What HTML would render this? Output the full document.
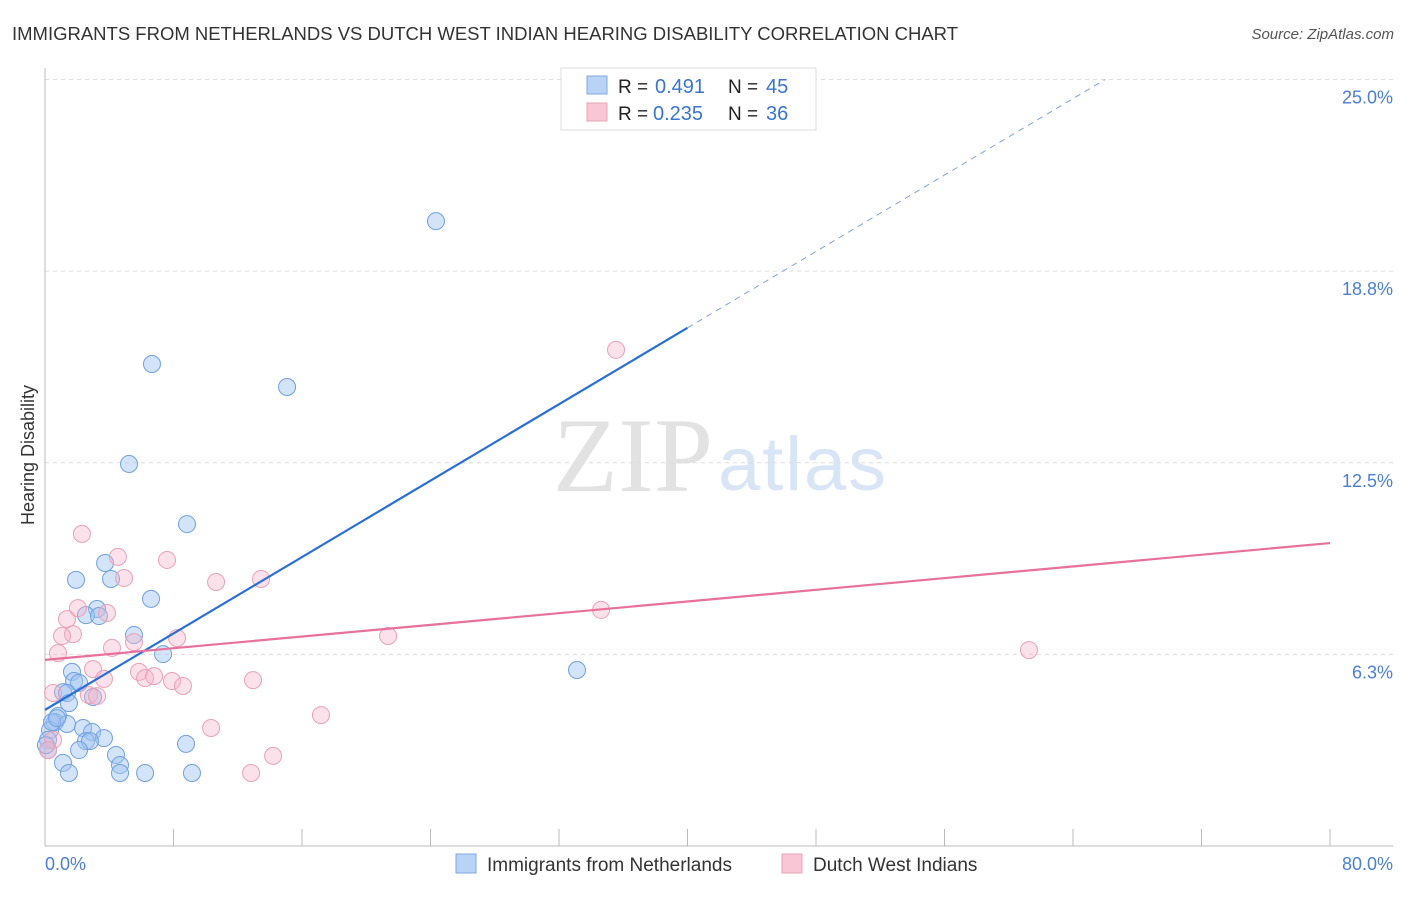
<!DOCTYPE html>
<html><head><meta charset="utf-8"><style>
body{margin:0;background:#fff;font-family:"Liberation Sans",sans-serif}
svg text{font-family:"Liberation Sans",sans-serif}
</style></head><body>
<svg width="1406" height="892">
<text x="12" y="40" font-size="18.5" fill="#333" textLength="946">IMMIGRANTS FROM NETHERLANDS VS DUTCH WEST INDIAN HEARING DISABILITY CORRELATION CHART</text>
<text x="1394" y="39" font-size="15" fill="#555" font-style="italic" text-anchor="end">Source: ZipAtlas.com</text>
<text x="553" y="491" font-size="106" fill="#e2e2e2" textLength="160" style="font-family:'Liberation Serif',serif">ZIP</text>
<text x="718" y="490" font-size="76" fill="#d8e5f7" textLength="168">atlas</text>
<g id="grid"></g>
<g id="axes"></g>
<g id="pts"></g>
<g id="trend"></g>
<text x="34" y="455" font-size="18" fill="#333" text-anchor="middle" transform="rotate(-90 34 455)">Hearing Disability</text>
<text x="45" y="870" font-size="18" fill="#4a7fd4">0.0%</text>
<text x="1393" y="870" font-size="18" fill="#4a7fd4" text-anchor="end">80.0%</text>
<g>
<rect x="561" y="68" width="255" height="62" fill="#fff" stroke="#ddd"/>
<rect x="587" y="76" width="20" height="18" fill="#b8d3f5" stroke="#7fa8e0"/>
<rect x="587" y="103" width="20" height="18" fill="#f8c6d4" stroke="#eba3ba"/>
<text x="618" y="93" font-size="19" fill="#222">R =</text>
<text x="655" y="93" font-size="20" fill="#3a74d0">0.491</text>
<text x="728" y="93" font-size="19" fill="#222">N =</text>
<text x="766" y="93" font-size="20" fill="#3a74d0">45</text>
<text x="618" y="120" font-size="19" fill="#222">R =</text>
<text x="653" y="120" font-size="20" fill="#3a74d0">0.235</text>
<text x="728" y="120" font-size="19" fill="#222">N =</text>
<text x="766" y="120" font-size="20" fill="#3a74d0">36</text>
</g>
<g>
<rect x="456" y="854" width="20" height="19" fill="#b8d3f5" stroke="#7fa8e0"/>
<text x="487" y="871" font-size="19" fill="#333">Immigrants from Netherlands</text>
<rect x="782" y="854" width="20" height="19" fill="#f8c6d4" stroke="#eba3ba"/>
<text x="813" y="871" font-size="19" fill="#333">Dutch West Indians</text>
</g>
</svg>
<script>
const yTicks=[6.25,12.5,18.75,25];
const yTickLabels=["6.3%","12.5%","18.8%","25.0%"];
const xTicks=[0,8,16,24,32,40,48,56,64,72,80];
const blueX=[24.34,6.66,15.07,5.23,8.84,3.74,1.93,4.11,6.60,3.24,2.55,3.36,5.54,7.35,33.12,1.68,1.81,2.12,1.12,1.37,2.99,1.49,0.81,0.62,1.37,0.31,2.37,2.93,3.67,2.55,2.80,0.19,2.12,4.42,4.67,8.78,1.12,1.49,4.67,6.23,9.15,0.19,0.44,0.75,0.06];
const blueY=[20.38,15.72,14.97,12.46,10.50,9.23,8.68,8.71,8.06,7.73,7.53,7.50,6.88,6.26,5.74,5.68,5.38,5.32,5.02,4.99,4.86,4.66,4.24,4.04,3.98,3.78,3.85,3.72,3.52,3.42,3.42,3.46,3.13,2.97,2.64,3.33,2.71,2.38,2.38,2.38,2.38,3.13,4.04,4.17,3.29];
const pinkX=[35.55,2.30,4.54,7.60,4.92,10.65,13.45,2.05,3.86,1.37,1.74,1.06,5.54,4.17,8.22,21.36,34.62,61.26,0.81,2.99,5.85,3.67,6.23,6.79,7.91,8.59,12.95,2.74,3.24,0.50,0.50,17.18,10.34,14.20,12.83,0.19];
const pinkY=[16.18,10.18,9.43,9.33,8.74,8.61,8.71,7.76,7.60,7.40,6.91,6.85,6.65,6.46,6.78,6.85,7.70,6.39,6.29,5.77,5.68,5.45,5.48,5.54,5.38,5.22,5.41,4.92,4.89,4.99,3.46,4.27,3.85,2.94,2.38,3.13];
const blueTrend=[4.44,16.9];   // y at x=0, y at x=40
const blueDashEnd=66;
const pinkTrend=[6.07,9.88];   // y at x=0, y at x=80
const NS="http://www.w3.org/2000/svg";
const sx=v=>45+v/80*1285, sy=v=>846-v*30.66;
function mk(t,a,p){const e=document.createElementNS(NS,t);for(const k in a)e.setAttribute(k,a[k]);p.appendChild(e);return e;}
const grid=document.getElementById('grid'),axes=document.getElementById('axes'),pts=document.getElementById('pts'),tr=document.getElementById('trend');
yTicks.forEach((t,i)=>{
 const l=mk('line',{x1:45,x2:1393,y1:sy(t),y2:sy(t),stroke:'#ddd','stroke-dasharray':'4 4'},grid);
 
 
 const tx=mk('text',{x:1393,y:sy(t)+24,'font-size':18,fill:'#4a7fd4','text-anchor':'end'},grid);
 tx.textContent=yTickLabels[i];
 
 
});
const ax=mk('line',{x1:45,x2:45,y1:68,y2:846,stroke:'#bbb'},axes);


const bx=mk('line',{x1:45,x2:1393,y1:846,y2:846,stroke:'#bbb'},axes);


xTicks.forEach(t=>{const l=mk('line',{x1:sx(t),x2:sx(t),y1:829,y2:846,stroke:'#bbb'},axes);
 
 });
blueX.forEach((x,i)=>{const c=mk('circle',{cx:sx(x),cy:sy(blueY[i]),r:8.5,fill:'rgba(160,196,240,0.45)',stroke:'#6fa0e0','stroke-width':1},pts);
 
 });
pinkX.forEach((x,i)=>{const c=mk('circle',{cx:sx(x),cy:sy(pinkY[i]),r:8.5,fill:'rgba(245,180,200,0.38)',stroke:'#eaa0b8','stroke-width':1},pts);
 
 });
const slope=(blueTrend[1]-blueTrend[0])/40;
const b1=mk('line',{x1:sx(0),y1:sy(blueTrend[0]),x2:sx(40),y2:sy(blueTrend[1]),stroke:'#2a6fd6','stroke-width':2.2},tr);


const b2=mk('line',{x1:sx(40),y1:sy(blueTrend[1]),x2:sx(blueDashEnd),y2:sy(blueTrend[0]+slope*blueDashEnd),stroke:'#7aa4e0','stroke-width':1,'stroke-dasharray':'6 5'},tr);


const p1=mk('line',{x1:sx(0),y1:sy(pinkTrend[0]),x2:sx(80),y2:sy(pinkTrend[1]),stroke:'#e8709a','stroke-width':2.2},tr);


</script>
</body></html>
